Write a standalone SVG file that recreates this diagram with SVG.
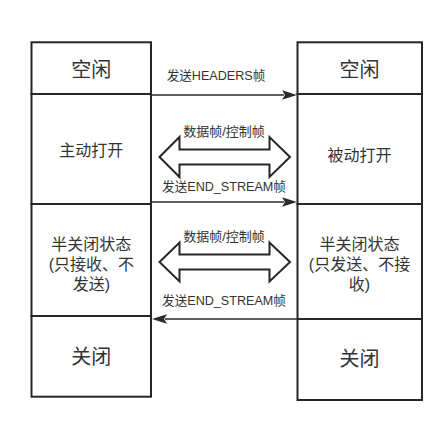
<svg xmlns="http://www.w3.org/2000/svg" width="447" height="426" viewBox="0 0 447 426">
<style>
.box{fill:#fff;stroke:#262626;stroke-width:2}
.t{font-family:"Liberation Sans","Noto Sans CJK SC",sans-serif;fill:#333;text-anchor:middle;dominant-baseline:central}
.big{font-size:20px}
.mid{font-size:16px}
.sm{font-size:12.6px}
.ln{stroke:#2b2b2b;stroke-width:1.6;fill:none}
.hd{fill:#2b2b2b}
.dbl{fill:#fff;stroke:#262626;stroke-width:2;stroke-linejoin:miter}
</style>
<rect width="447" height="426" fill="#fff"/>
<g id="left-idle"><rect class="box" x="31.5" y="42.3" width="119.5" height="51.7"/><text class="t big" x="91.3" y="70">空闲</text></g>
<g id="left-open"><rect class="box" x="31.5" y="94" width="119.5" height="110"/><text class="t mid" x="91.3" y="150">主动打开</text></g>
<g id="left-half"><rect class="box" x="31.5" y="204" width="119.5" height="112"/><text class="t mid" x="91.3" y="244">半关闭状态</text><text class="t mid" x="91.3" y="264">(只接收、不</text><text class="t mid" x="91.3" y="284">发送)</text></g>
<g id="left-closed"><rect class="box" x="31.5" y="316" width="119.5" height="80.7"/><text class="t big" x="91.3" y="357">关闭</text></g>
<g id="right-idle"><rect class="box" x="297.5" y="42.3" width="124.5" height="51.7"/><text class="t big" x="359.5" y="70">空闲</text></g>
<g id="right-open"><rect class="box" x="297.5" y="94" width="124.5" height="110"/><text class="t mid" x="359.5" y="155">被动打开</text></g>
<g id="right-half"><rect class="box" x="297.5" y="204" width="124.5" height="115"/><text class="t mid" x="359.5" y="244">半关闭状态</text><text class="t mid" x="359.5" y="264">(只发送、不接</text><text class="t mid" x="359.5" y="284">收)</text></g>
<g id="right-closed"><rect class="box" x="297.5" y="319" width="124.5" height="81"/><text class="t big" x="359.5" y="359">关闭</text></g>
<g id="connectors">
<line class="ln" x1="152" y1="95" x2="284" y2="95"/><polygon class="hd" points="297,95 282,90.3 285,95 282,99.7"/>
<text class="t sm" x="216" y="76">发送HEADERS帧</text>
<polygon class="dbl" points="159.5,157 179.5,137 179.5,149.5 269.5,149.5 269.5,137 290,157 269.5,177 269.5,164.5 179.5,164.5 179.5,177"/>
<text class="t sm" x="224" y="131" style="font-size:13px">数据帧/控制帧</text>
<line class="ln" x1="152" y1="202" x2="284" y2="202"/><polygon class="hd" points="297,202 282,197.3 285,202 282,206.7"/>
<text class="t sm" x="224" y="187">发送END_STREAM帧</text>
<polygon class="dbl" points="159.5,262 179.5,242.5 179.5,254.5 269.5,254.5 269.5,242.5 290,262 269.5,281.5 269.5,269.5 179.5,269.5 179.5,281.5"/>
<text class="t sm" x="224" y="236" style="font-size:13px">数据帧/控制帧</text>
<line class="ln" x1="297" y1="319" x2="165" y2="319"/><polygon class="hd" points="152,319 167,314.3 164,319 167,323.7"/>
<text class="t sm" x="224" y="301">发送END_STREAM帧</text>
</g>
</svg>
